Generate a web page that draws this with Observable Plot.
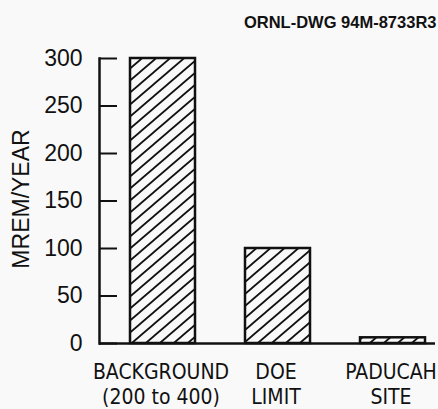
<!DOCTYPE html>
<html>
<head>
<meta charset="utf-8">
<script src="https://cdn.jsdelivr.net/npm/d3@7"></script>
<script src="https://cdn.jsdelivr.net/npm/@observablehq/plot@0.6"></script>
<style>
  html, body { margin: 0; padding: 0; background: #f9f9f9; }
  #chart svg { display: block; }
</style>
</head>
<body>
<div id="chart"></div>
<script>
const categories = ["BACKGROUND\n(200 to 400)", "DOE\nLIMIT", "PADUCAH\nSITE"];
const values = [300, 100, 6];
const yTicks = [0, 50, 100, 150, 200, 250, 300];
const yLabel = "MREM/YEAR";
const title = "ORNL-DWG 94M-8733R3";

const data = categories.map((c, i) => ({category: c, value: values[i]}));

const plot = Plot.plot({
  width: 438,
  height: 409,
  marginTop: 58,
  marginBottom: 66,
  marginLeft: 99,
  marginRight: 3,
  style: {background: "#f9f9f9", color: "#111", fontFamily: "'Liberation Sans', Arial, sans-serif"},
  x: {domain: categories, paddingInner: 0.435, paddingOuter: 0.09, insetLeft: 20, insetRight: 0},
  y: {domain: [0, 300]},
  marks: [
    Plot.barY(data, {x: "category", y: "value", fill: "url(#hatch)", stroke: "#111", strokeWidth: 2.5}),
    Plot.ruleY([0], {stroke: "#111", strokeWidth: 2.5}),
    Plot.frame({anchor: "left", stroke: "#111", strokeWidth: 2.5}),
    Plot.tickY(yTicks, {y: d => d, stroke: "#111", strokeWidth: 2, insetRight: 318}),
    Plot.axisY({ticks: yTicks, tickSize: 0, tickPadding: 17, fontSize: 23, label: null}),
    Plot.axisX({tickSize: 0, tickPadding: 17, dx: -2, fontSize: 21, label: null, lineHeight: 1.22,
      fontFamily: "'DejaVu Sans Condensed', 'Liberation Sans Narrow', sans-serif"}),
    Plot.text([yLabel], {text: d => d, frameAnchor: "left", rotate: -90, textAnchor: "middle", lineAnchor: "middle", dx: -78, dy: -2, fontSize: 23}),
    Plot.text([title], {text: d => d, frameAnchor: "top-right", textAnchor: "end", lineAnchor: "bottom", dx: 1, dy: -31, fontSize: 16.5, fontWeight: "bold"})
  ]
});

// hatch pattern definition
const ns = "http://www.w3.org/2000/svg";
const defs = document.createElementNS(ns, "defs");
defs.innerHTML = `<pattern id="hatch" patternUnits="userSpaceOnUse" width="14" height="12">
  <rect width="14" height="12" fill="#f9f9f9"></rect>
  <path d="M-1,12.86 L15,-0.86 M-7,6 L1,-0.86 M13,12.86 L21,6" stroke="#111" stroke-width="1.8"></path>
</pattern>`;
plot.insertBefore(defs, plot.firstChild);

document.getElementById("chart").appendChild(plot);
</script>
</body>
</html>
